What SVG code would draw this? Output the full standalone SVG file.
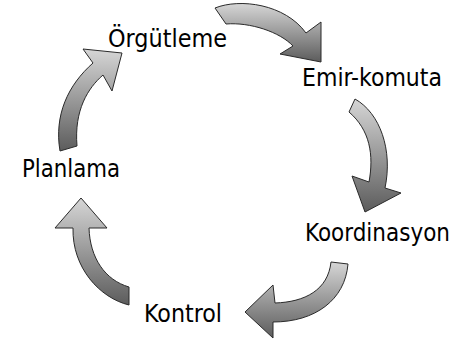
<svg xmlns="http://www.w3.org/2000/svg" width="472" height="342" viewBox="0 0 472 342">
<defs>
<linearGradient id="g" x1="0" y1="0" x2="0" y2="1">
<stop offset="0" stop-color="#d6d6d6"/>
<stop offset="1" stop-color="#5c5c5c"/>
</linearGradient>
<style>
.arr{fill:url(#g);stroke:#2a2a2a;stroke-width:1;stroke-linejoin:miter}
.lbl{font-family:"DejaVu Sans Condensed","DejaVu Sans",sans-serif;font-size:25px;fill:#000}
</style>
</defs>
<rect width="472" height="342" fill="#fff"/>
<g id="connectors">
<path class="arr" d="M215,8 C240,-2 285,4 306,33 L321,22 L321,62 L280,54 L293,46 C280,32 250,22 226,24 Z"/>
<path class="arr" d="M355,99 C380,113 393,150 385,188 L401,193 L365,212 L352,176 L369,182 C374,155 370,130 349,112 Z"/>
<path class="arr" d="M348,264 C345,300 315,322 273,322 L273,338 L245,312 L273,285 L275,303 C305,302 328,290 331,262 Z"/>
<path class="arr" d="M129,305 C100,298 72,268 73,228 L55,228 L81,198 L107,228 L89,228 C90,258 105,280 129,287 Z"/>
<path class="arr" d="M60,151 C54,115 68,85 93,63 L83,49 L122,53 L112,91 L103,75 C88,88 74,110 77,146 Z"/>
</g>
<g id="orgutleme"><text class="lbl" x="108" y="47" textLength="119" lengthAdjust="spacingAndGlyphs">Örgütleme</text></g>
<g id="emir-komuta"><text class="lbl" x="302" y="86" textLength="140" lengthAdjust="spacingAndGlyphs">Emir-komuta</text></g>
<g id="koordinasyon"><text class="lbl" x="305" y="241" textLength="145" lengthAdjust="spacingAndGlyphs">Koordinasyon</text></g>
<g id="planlama"><text class="lbl" x="22" y="177" textLength="98" lengthAdjust="spacingAndGlyphs">Planlama</text></g>
<g id="kontrol"><text class="lbl" x="144" y="322" textLength="78" lengthAdjust="spacingAndGlyphs">Kontrol</text></g>
</svg>
